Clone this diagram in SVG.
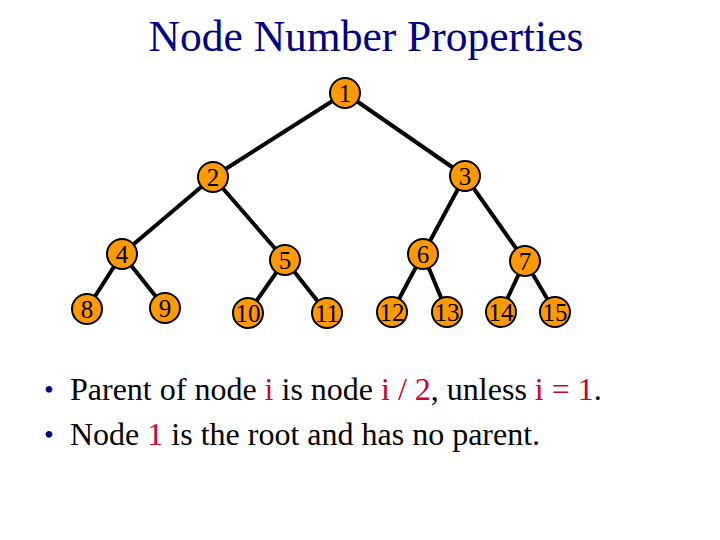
<svg xmlns="http://www.w3.org/2000/svg" width="720" height="540" viewBox="0 0 720 540">
<style>
.edge{stroke:#000;stroke-width:4;stroke-linecap:round}
.node circle{fill:#FF9900;stroke:#000;stroke-width:2}
.node text{font-family:"Liberation Serif",serif;font-size:25px;text-anchor:middle;fill:#000}
.title{font-family:"Liberation Serif",serif;font-size:43.5px;text-anchor:middle;fill:#000080}
.body{font-family:"Liberation Serif",serif;font-size:32px;fill:#000}
.hl{fill:#CC0033}
.bul{fill:#000080;font-size:28px}
</style>
<rect width="720" height="540" fill="#fff"/>
<text class="title" x="366" y="51">Node Number Properties</text>
<g id="connectors">
<line class="edge" x1="345" y1="93" x2="213" y2="177"/>
<line class="edge" x1="345" y1="93" x2="465" y2="176"/>
<line class="edge" x1="213" y1="177" x2="122" y2="254"/>
<line class="edge" x1="213" y1="177" x2="285" y2="260"/>
<line class="edge" x1="465" y1="176" x2="423" y2="254"/>
<line class="edge" x1="465" y1="176" x2="525" y2="261"/>
<line class="edge" x1="122" y1="254" x2="87" y2="309"/>
<line class="edge" x1="122" y1="254" x2="165" y2="308"/>
<line class="edge" x1="285" y1="260" x2="248" y2="313"/>
<line class="edge" x1="285" y1="260" x2="327" y2="313"/>
<line class="edge" x1="423" y1="254" x2="392" y2="312"/>
<line class="edge" x1="423" y1="254" x2="447" y2="312"/>
<line class="edge" x1="525" y1="261" x2="501" y2="312"/>
<line class="edge" x1="525" y1="261" x2="555" y2="312"/>
</g>
<g id="n1" class="node"><circle cx="345" cy="93" r="15"/><text x="345" y="101.5">1</text></g>
<g id="n2" class="node"><circle cx="213" cy="177" r="15"/><text x="213" y="185.5">2</text></g>
<g id="n3" class="node"><circle cx="465" cy="176" r="15"/><text x="465" y="184.5">3</text></g>
<g id="n4" class="node"><circle cx="122" cy="254" r="15"/><text x="122" y="262.5">4</text></g>
<g id="n5" class="node"><circle cx="285" cy="260" r="15"/><text x="285" y="268.5">5</text></g>
<g id="n6" class="node"><circle cx="423" cy="254" r="15"/><text x="423" y="262.5">6</text></g>
<g id="n7" class="node"><circle cx="525" cy="261" r="15"/><text x="525" y="269.5">7</text></g>
<g id="n8" class="node"><circle cx="87" cy="309" r="15"/><text x="87" y="317.5">8</text></g>
<g id="n9" class="node"><circle cx="165" cy="308" r="15"/><text x="165" y="316.5">9</text></g>
<g id="n10" class="node"><circle cx="248" cy="313" r="15"/><text x="248" y="321.5">10</text></g>
<g id="n11" class="node"><circle cx="327" cy="313" r="15"/><text x="327" y="321.5">11</text></g>
<g id="n12" class="node"><circle cx="392" cy="312" r="15"/><text x="392" y="320.5">12</text></g>
<g id="n13" class="node"><circle cx="447" cy="312" r="15"/><text x="447" y="320.5">13</text></g>
<g id="n14" class="node"><circle cx="501" cy="312" r="15"/><text x="501" y="320.5">14</text></g>
<g id="n15" class="node"><circle cx="555" cy="312" r="15"/><text x="555" y="320.5">15</text></g>
<text class="body" x="44" y="399"><tspan class="bul">•</tspan></text>
<text class="body" x="70" y="400">Parent of node <tspan class="hl">i</tspan> is node <tspan class="hl">i / 2</tspan>, unless <tspan class="hl">i = 1</tspan>.</text>
<text class="body" x="44" y="444"><tspan class="bul">•</tspan></text>
<text class="body" x="70" y="445">Node <tspan class="hl">1</tspan> is the root and has no parent.</text>
</svg>
